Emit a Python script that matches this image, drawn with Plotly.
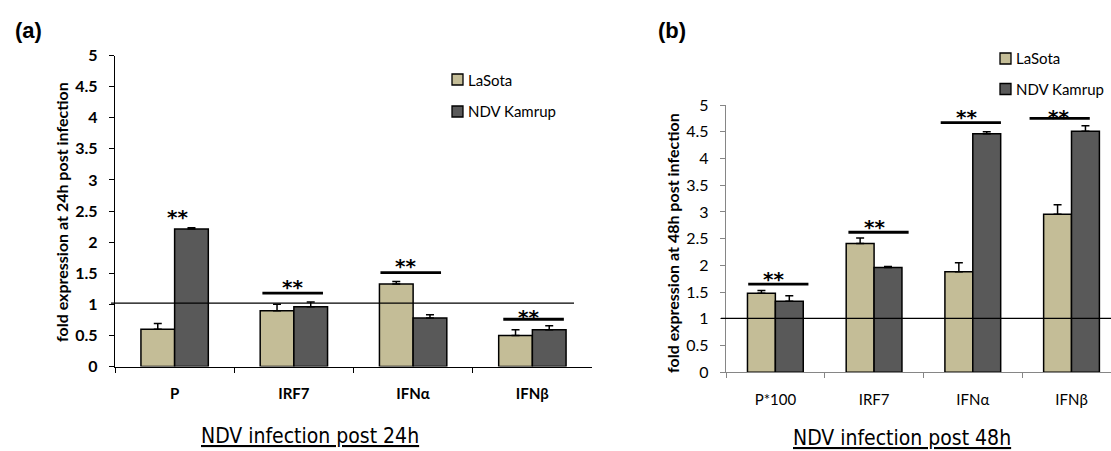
import plotly.graph_objects as go

# ---------------- data ----------------
categories_a = ["P", "IRF7", "IFNα", "IFNβ"]
categories_b = ["P*100", "IRF7", "IFNα", "IFNβ"]

lasota_24 = [0.60, 0.895, 1.325, 0.50]
lasota_24_err = [0.09, 0.105, 0.04, 0.09]
kamrup_24 = [2.21, 0.96, 0.78, 0.59]
kamrup_24_err = [0.02, 0.075, 0.05, 0.065]

lasota_48 = [1.48, 2.41, 1.88, 2.955]
lasota_48_err = [0.05, 0.10, 0.17, 0.18]
kamrup_48 = [1.33, 1.96, 4.46, 4.51]
kamrup_48_err = [0.10, 0.02, 0.04, 0.10]

# significance markers: bar level (None = stars only), star level
sig_bar_24 = [None, 1.18, 1.51, 0.76]
sig_star_24 = [2.46, 1.34, 1.675, 0.855]
sig_bar_48 = [1.65, 2.62, 4.67, 4.75]
sig_star_48 = [1.82, 2.79, 4.85, 4.85]

baseline_24 = 1.02
baseline_48 = 1.01

y_ticks = [0, 0.5, 1, 1.5, 2, 2.5, 3, 3.5, 4, 4.5, 5]
y_ticktext = ["0", "0.5", "1", "1.5", "2", "2.5", "3", "3.5", "4", "4.5", "5"]

# ---------------- style ----------------
W, H = 1111, 451
C_LASOTA = "#C4BD97"
C_KAMRUP = "#595959"
FONT = "Lato, Carlito, Calibri, sans-serif"
STAR_FONT = "DejaVu Sans, sans-serif"
NARROW = "Liberation Sans Narrow, Arial Narrow, DejaVu Sans Condensed, sans-serif"


def px(x):
    return x / W


def py(y):
    return 1 - y / H


fig = go.Figure()


def add_bars(cats, vals, errs, color, name, xa, ya):
    fig.add_trace(go.Bar(
        x=cats, y=vals, name=name, xaxis=xa, yaxis=ya,
        marker=dict(color=color, line=dict(color="#000000", width=1.5)),
        error_y=dict(type="data", array=errs, arrayminus=[0] * len(errs),
                     symmetric=False, color="#000000", thickness=1.5, width=4),
        showlegend=False,
    ))


add_bars(categories_a, lasota_24, lasota_24_err, C_LASOTA, "LaSota", "x", "y")
add_bars(categories_a, kamrup_24, kamrup_24_err, C_KAMRUP, "NDV Kamrup", "x", "y")
add_bars(categories_b, lasota_48, lasota_48_err, C_LASOTA, "LaSota", "x2", "y2")
add_bars(categories_b, kamrup_48, kamrup_48_err, C_KAMRUP, "NDV Kamrup", "x2", "y2")

shapes = []
annotations = []

# baseline (fold = 1) reference lines
shapes.append(dict(type="line", xref="paper", yref="y", x0=px(111), x1=px(574),
                   y0=baseline_24, y1=baseline_24, line=dict(color="#000000", width=1.3)))
shapes.append(dict(type="line", xref="paper", yref="y2", x0=px(721), x1=px(1111),
                   y0=baseline_48, y1=baseline_48, line=dict(color="#000000", width=1.3)))

# significance bars & stars
bar_off_24 = [0.0, -0.01, -0.02, 0.01]
star_off_24 = [0.02, -0.01, -0.06, -0.03]
bar_off_48 = [0.03, 0.045, -0.02, -0.12]
star_off_48 = [-0.02, 0.0, -0.06, -0.13]


def add_sig(bars, stars, boff, soff, half, xr, yr):
    for i, (b, s) in enumerate(zip(bars, stars)):
        if b is not None:
            shapes.append(dict(type="line", xref=xr, yref=yr,
                               x0=i + boff[i] - half, x1=i + boff[i] + half,
                               y0=b, y1=b, line=dict(color="#000000", width=2.8)))
        annotations.append(dict(xref=xr, yref=yr, x=i + soff[i], y=s, text="<b>**</b>",
                                showarrow=False, yanchor="middle", yshift=-4,
                                font=dict(family=STAR_FONT, size=20, color="#000000")))


add_sig(sig_bar_24, sig_star_24, bar_off_24, star_off_24, 0.254, "x", "y")
add_sig(sig_bar_48, sig_star_48, bar_off_48, star_off_48, 0.305, "x2", "y2")


# manual legends
def legend_item(x_sq, y_c, color, text, size=11):
    shapes.append(dict(type="rect", xref="paper", yref="paper",
                       x0=px(x_sq), x1=px(x_sq + size), y0=py(y_c + size / 2), y1=py(y_c - size / 2),
                       fillcolor=color, line=dict(color="#000000", width=1.3)))
    annotations.append(dict(xref="paper", yref="paper", x=px(x_sq + size + 3), y=py(y_c),
                            xanchor="left", yanchor="middle", text=text, showarrow=False,
                            font=dict(family=FONT, size=15, color="#000000")))


legend_item(452, 79.5, C_LASOTA, "LaSota")
legend_item(452, 111.5, C_KAMRUP, "NDV Kamrup")
legend_item(1000, 58.5, C_LASOTA, "LaSota")
legend_item(1000, 89, C_KAMRUP, "NDV Kamrup")

# panel labels
annotations.append(dict(xref="paper", yref="paper", x=px(28), y=py(30), text="<b>(a)</b>",
                        showarrow=False, xanchor="center", yanchor="middle",
                        font=dict(family="Liberation Sans, Arial, sans-serif", size=22, color="#000000")))
annotations.append(dict(xref="paper", yref="paper", x=px(672), y=py(30), text="<b>(b)</b>",
                        showarrow=False, xanchor="center", yanchor="middle",
                        font=dict(family="Liberation Sans, Arial, sans-serif", size=22, color="#000000")))

# axis titles
annotations.append(dict(xref="paper", yref="paper", x=px(61), y=py(212),
                        text="<b>fold expression at 24h post infection</b>", textangle=-90,
                        showarrow=False, xanchor="center", yanchor="middle",
                        font=dict(family=FONT, size=16, color="#000000")))
annotations.append(dict(xref="paper", yref="paper", x=px(672), y=py(243),
                        text="<b>fold expression at 48h post infection</b>", textangle=-90,
                        showarrow=False, xanchor="center", yanchor="middle",
                        font=dict(family=FONT, size=16, color="#000000")))

# subtitles
annotations.append(dict(xref="paper", yref="paper", x=px(310), y=py(436),
                        text="<u>NDV infection post 24h</u>", showarrow=False,
                        xanchor="center", yanchor="middle",
                        font=dict(family=NARROW, size=21, color="#000000")))
annotations.append(dict(xref="paper", yref="paper", x=px(902), y=py(438),
                        text="<u>NDV infection post 48h</u>", showarrow=False,
                        xanchor="center", yanchor="middle",
                        font=dict(family=NARROW, size=21, color="#000000")))

common_axis = dict(automargin=False, showgrid=False, zeroline=False, showline=True,
                   ticks="outside", ticklen=5, tickwidth=1.3, linewidth=1.3)

fig.update_layout(
    width=W, height=H,
    margin=dict(l=0, r=0, t=0, b=0, pad=0, autoexpand=False),
    paper_bgcolor="#FFFFFF", plot_bgcolor="rgba(0,0,0,0)",
    barmode="group", bargap=0.435, bargroupgap=0,
    shapes=shapes, annotations=annotations,
    xaxis=dict(domain=[px(115), px(592)], anchor="y", type="category",
               categoryorder="array", categoryarray=categories_a,
               range=[-0.5, 3.5], tickson="boundaries",
               tickcolor="#000000", linecolor="#000000",
               tickfont=dict(family=FONT, size=15, color="#000000", weight="bold"),
               ticklabelstandoff=13, **common_axis),
    yaxis=dict(domain=[py(366.5), py(55.5)], anchor="x", range=[0, 5],
               tickvals=y_ticks, ticktext=y_ticktext,
               tickcolor="#000000", linecolor="#000000",
               tickfont=dict(family=FONT, size=16, color="#000000", weight="bold"),
               ticklabelstandoff=8, **common_axis),
    xaxis2=dict(domain=[px(726), 1.0], anchor="y2", type="category",
                categoryorder="array", categoryarray=categories_b,
                range=[-0.5, 3.40], tickson="boundaries",
                tickcolor="#868686", linecolor="#868686",
                tickfont=dict(family=FONT, size=15, color="#000000"),
                ticklabelstandoff=14, **common_axis),
    yaxis2=dict(domain=[py(372.3), py(105)], anchor="x2", range=[0, 5],
                tickvals=y_ticks, ticktext=y_ticktext,
                tickcolor="#868686", linecolor="#868686",
                tickfont=dict(family=FONT, size=16, color="#000000"),
                ticklabelstandoff=8, **common_axis),
)

fig.write_html(
    "out.html",
    config={"displayModeBar": False},
    post_script="document.body.style.margin='0';document.body.style.overflow='hidden';",
)
